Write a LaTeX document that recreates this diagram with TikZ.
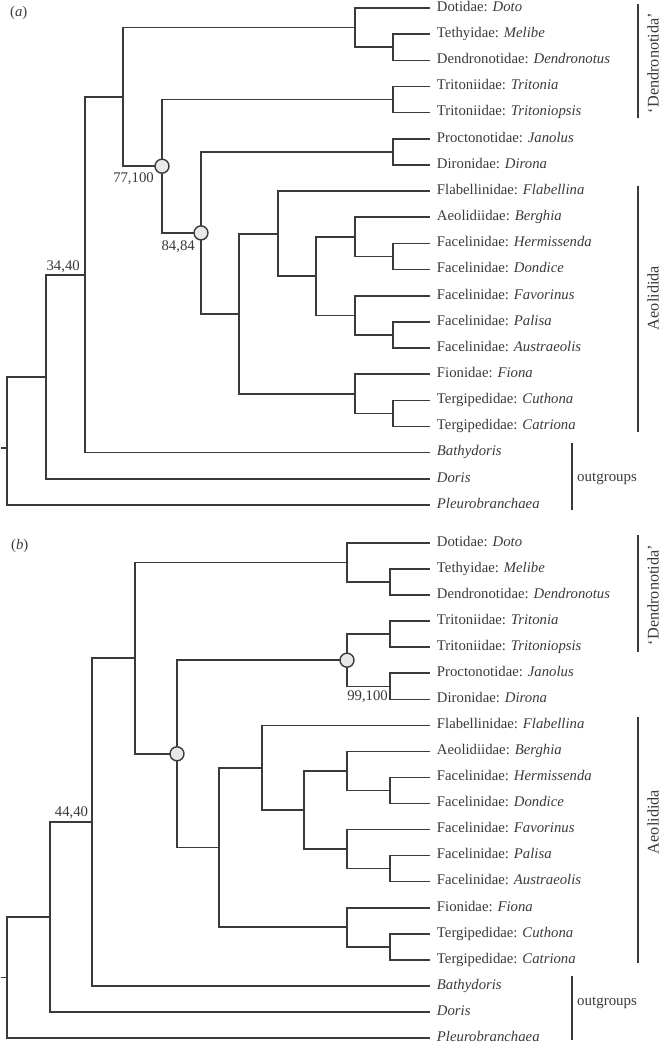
\documentclass[tikz,border=0pt]{standalone}
\usepackage{fontspec}
\setmainfont{Liberation Serif}
\definecolor{tcol}{RGB}{58,58,58}
\definecolor{cfill}{RGB}{232,232,232}
\newcommand\leaffont{\fontsize{14.8}{17}\selectfont}
\newcommand\cladefont{\fontsize{16.3}{18}\selectfont}
\begin{document}
\begin{tikzpicture}[x=1bp,y=-1bp,
  branch/.style={draw=tcol,line width=1.6bp},
  leaf/.style={anchor=west,inner xsep=6.8pt,inner ysep=0pt,text height=0.662em,text depth=0pt,font=\leaffont,text=tcol},
  support/.style={circle,draw=tcol,fill=cfill,line width=1.4bp,minimum size=14bp,inner sep=0pt},
  bs/.style={anchor=base east,inner sep=0pt,font=\leaffont,text=tcol},
  tag/.style={anchor=base west,inner sep=0pt,font=\leaffont,text=tcol},
  bracket/.style={draw=tcol,line width=1.5bp},
  clade/.style={rotate=90,inner sep=0pt,font=\cladefont,text=tcol},
  outg/.style={anchor=mid west,inner sep=0pt,font=\fontsize{15}{17}\selectfont,text=tcol}]
\useasboundingbox (0,0) rectangle (661,1046);
\def\leaflist{Doto/{Dotidae: \textit{Doto}},Melibe/{Tethyidae: \textit{Melibe}},Dendro/{Dendronotidae: \textit{Dendronotus}},Trit/{Tritoniidae: \textit{Tritonia}},Tritop/{Tritoniidae: \textit{Tritoniopsis}},Jan/{Proctonotidae: \textit{Janolus}},Dir/{Dironidae: \textit{Dirona}},Flab/{Flabellinidae: \textit{Flabellina}},Berg/{Aeolidiidae: \textit{Berghia}},Herm/{Facelinidae: \textit{Hermissenda}},Dond/{Facelinidae: \textit{Dondice}},Fav/{Facelinidae: \textit{Favorinus}},Pal/{Facelinidae: \textit{Palisa}},Aus/{Facelinidae: \textit{Austraeolis}},Fio/{Fionidae: \textit{Fiona}},Cut/{Tergipedidae: \textit{Cuthona}},Cat/{Tergipedidae: \textit{Catriona}},Bat/{\textit{Bathydoris}},Dor/{\textit{Doris}},Ple/{\textit{Pleurobranchaea}}}
% ---------- panel (a) ----------
\foreach \n/\t [count=\i from 0] in \leaflist {\node[leaf] (a\n) at (430,8+26.158*\i) {\t};}
\coordinate (aMD) at (393,47.2);
\coordinate (aDT) at (355,27.6);
\coordinate (aTR) at (393,99.6);
\coordinate (aJD) at (393,151.9);
\coordinate (aHD) at (393,256.5);
\coordinate (aBH) at (355,236.9);
\coordinate (aPA) at (393,335.0);
\coordinate (aFP) at (355,315.4);
\coordinate (aCC) at (393,413.5);
\coordinate (aFC) at (355,393.9);
\coordinate (aN316) at (316,276.2);
\coordinate (aN278) at (278,233.7);
\coordinate (aN239) at (239,313.8);
\coordinate (aC2) at (201,232.9);
\coordinate (aC1) at (162,166.2);
\coordinate (aN123) at (123,96.9);
\coordinate (aN85) at (85,274.8);
\coordinate (aN46) at (46,376.8);
\coordinate (aRoot) at (7,448);
\coordinate (aStub) at (1,448);
\foreach \p/\c in {aMD/aMelibe,aMD/aDendro,aDT/aDoto,aDT/aMD,aTR/aTrit,aTR/aTritop,aJD/aJan,aJD/aDir,aHD/aHerm,aHD/aDond,aBH/aBerg,aBH/aHD,aPA/aPal,aPA/aAus,aFP/aFav,aFP/aPA,aCC/aCut,aCC/aCat,aFC/aFio,aFC/aCC,aN316/aBH,aN316/aFP,aN278/aFlab,aN278/aN316,aN239/aN278,aN239/aFC,aC2/aJD,aC2/aN239,aC1/aTR,aC1/aC2,aN123/aDT,aN123/aC1,aN85/aN123,aN85/aBat,aN46/aN85,aN46/aDor,aRoot/aN46,aRoot/aPle}
  {\draw[branch] (\p) |- (\c);}
\draw[branch] (aStub) -- (aRoot);
\node[support] (aC1n) at (aC1) {};
\node[support] (aC2n) at (aC2) {};
\node[bs] (aS1) at (154,182) {77,100};
\node[bs] (aS2) at (195,250.5) {84,84};
\node[bs] (aS3) at (80,270) {34,40};
\node[tag] (aTag) at (10,16.5) {(\textit{a})};
\coordinate (aDen1) at (638,4); \coordinate (aDen2) at (638,118);
\draw[bracket] (aDen1) -- (aDen2);
\node[clade] (aDenL) at (653,63) {‘Dendronotida’};
\coordinate (aAeo1) at (638,186); \coordinate (aAeo2) at (638,432);
\draw[bracket] (aAeo1) -- (aAeo2);
\node[clade] (aAeoL) at (653,298) {Aeolidida};
\coordinate (aOut1) at (572,443); \coordinate (aOut2) at (572,510);
\draw[bracket] (aOut1) -- (aOut2);
\node[outg] (aOutL) at (577,479) {outgroups};
% ---------- panel (b) ----------
\foreach \n/\t [count=\i from 0] in \leaflist {\node[leaf] (b\n) at (430,543+26.05*\i) {\t};}
\coordinate (bMD) at (390,582.1);
\coordinate (bDT) at (347,562.5);
\coordinate (bTR) at (390,634.2);
\coordinate (bJD) at (390,686.3);
\coordinate (bC3) at (347,660.2);
\coordinate (bHD) at (390,790.5);
\coordinate (bBH) at (347,770.9);
\coordinate (bPA) at (390,868.6);
\coordinate (bFP) at (347,849.1);
\coordinate (bCC) at (390,946.8);
\coordinate (bFC) at (347,927.2);
\coordinate (bN304) at (304,810);
\coordinate (bN262) at (262,767.7);
\coordinate (bN219) at (219,847.5);
\coordinate (bC4) at (177,753.8);
\coordinate (bN135) at (135,658.2);
\coordinate (bN92) at (92,822);
\coordinate (bN50) at (50,916.9);
\coordinate (bRoot) at (7,977.4);
\coordinate (bStub) at (1,977.4);
\foreach \p/\c in {bMD/bMelibe,bMD/bDendro,bDT/bDoto,bDT/bMD,bTR/bTrit,bTR/bTritop,bJD/bJan,bJD/bDir,bC3/bTR,bC3/bJD,bHD/bHerm,bHD/bDond,bBH/bBerg,bBH/bHD,bPA/bPal,bPA/bAus,bFP/bFav,bFP/bPA,bCC/bCut,bCC/bCat,bFC/bFio,bFC/bCC,bN304/bBH,bN304/bFP,bN262/bFlab,bN262/bN304,bN219/bN262,bN219/bFC,bC4/bC3,bC4/bN219,bN135/bDT,bN135/bC4,bN92/bN135,bN92/bBat,bN50/bN92,bN50/bDor,bRoot/bN50,bRoot/bPle}
  {\draw[branch] (\p) |- (\c);}
\draw[branch] (bStub) -- (bRoot);
\node[support] (bC3n) at (bC3) {};
\node[support] (bC4n) at (bC4) {};
\node[bs] (bS1) at (388,700) {99,100};
\node[bs] (bS2) at (88.3,816.5) {44,40};
\node[tag] (bTag) at (11,549.5) {(\textit{b})};
\coordinate (bDen1) at (638,535); \coordinate (bDen2) at (638,652);
\draw[bracket] (bDen1) -- (bDen2);
\node[clade] (bDenL) at (653,595) {‘Dendronotida’};
\coordinate (bAeo1) at (638,717); \coordinate (bAeo2) at (638,963);
\draw[bracket] (bAeo1) -- (bAeo2);
\node[clade] (bAeoL) at (653,822) {Aeolidida};
\coordinate (bOut1) at (572,976); \coordinate (bOut2) at (572,1040);
\draw[bracket] (bOut1) -- (bOut2);
\node[outg] (bOutL) at (577,1003) {outgroups};
\end{tikzpicture}
\end{document}
